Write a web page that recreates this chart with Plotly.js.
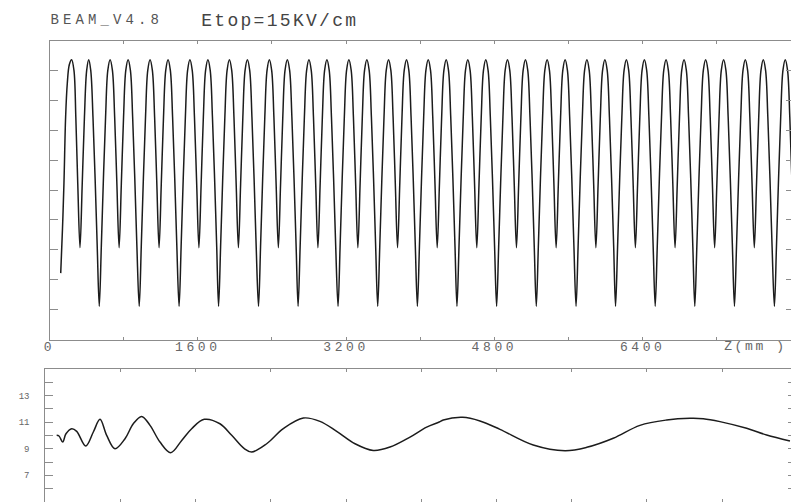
<!DOCTYPE html>
<html><head><meta charset="utf-8">
<script src="https://cdn.plot.ly/plotly-3.0.1.min.js"></script>
<style>
html,body{margin:0;padding:0;background:#fff;}
#chart{width:791px;height:502px;}
.xtick text{letter-spacing:3.6px;}
.ytick text{letter-spacing:4px;}
.annotation[data-index="0"] text{letter-spacing:4.1px;}
.annotation[data-index="1"] text{letter-spacing:2.3px;}
.annotation[data-index="2"] text{letter-spacing:2.6px;}
</style>
</head><body><div id="chart"></div>
<script>
// ---- top panel: field along z (mm) ----
const zTop = [
  121,140,156,174,192,214,239,264,284,305,329,353,377,401,423,445,469,492,515,
  537,559,582,605,629,654,679,703,727,751,775,799,823,848,873,897,920,943,
  968,990,1013,1036,1060,1085,1110,1134,1158,1182,1206,1230,1254,1279,1304,1328,1351,1374,
  1398,1420,1443,1466,1490,1515,1540,1564,1588,1612,1636,1660,1684,1709,1734,1758,1781,1804,
  1824,1846,1869,1892,1916,1941,1966,1990,2014,2038,2062,2086,2110,2135,2160,2184,2207,2230,
  2255,2277,2300,2323,2347,2372,2397,2421,2445,2469,2493,2517,2541,2566,2591,2615,2638,2661,
  2682,2704,2727,2750,2774,2799,2824,2848,2872,2896,2920,2944,2968,2993,3018,3042,3065,3088,
  3113,3135,3158,3181,3205,3230,3255,3279,3303,3327,3351,3375,3399,3424,3449,3473,3496,3519,
  3541,3563,3586,3609,3633,3658,3683,3707,3731,3755,3779,3803,3827,3852,3877,3901,3924,3947,
  3969,3991,4014,4037,4061,4086,4111,4135,4159,4183,4207,4231,4255,4280,4305,4329,4352,4375,
  4396,4418,4441,4464,4488,4513,4538,4562,4586,4610,4634,4658,4682,4707,4732,4756,4779,4802,
  4824,4846,4869,4892,4916,4941,4966,4990,5014,5038,5062,5086,5110,5135,5160,5184,5207,5230,
  5252,5274,5297,5320,5344,5369,5394,5418,5442,5466,5490,5514,5538,5563,5588,5612,5635,5658,
  5681,5703,5726,5749,5773,5798,5823,5847,5871,5895,5919,5943,5967,5992,6017,6041,6064,6087,
  6107,6129,6152,6175,6199,6224,6249,6273,6297,6321,6345,6369,6393,6418,6443,6467,6490,6513,
  6535,6557,6580,6603,6627,6652,6677,6701,6725,6749,6773,6797,6821,6846,6871,6895,6918,6941,
  6962,6984,7007,7030,7054,7079,7104,7128,7152,7176,7200,7224,7248,7273,7298,7322,7345,7368,
  7390,7412,7435,7458,7482,7507,7532,7556,7580,7604,7628,7652,7676,7701,7726,7750,7773,7796,
  7821,7843,7866,7889,7913,7938,7963,7987,8011
];
const eTop = [
  2.22,3.7,5.23,7.45,8.57,9.2,9.36,9.0,7.44,5.2,3.07,5.2,7.44,9.0,9.36,9.0,7.44,5.4,3.1,
  1.11,3.1,5.4,7.44,9.0,9.36,9.0,7.44,5.2,3.07,5.2,7.44,9.0,9.36,9.0,7.44,5.4,3.1,
  1.11,3.1,5.4,7.44,9.0,9.36,9.0,7.44,5.2,3.07,5.2,7.44,9.0,9.36,9.0,7.44,5.4,3.1,
  1.11,3.1,5.4,7.44,9.0,9.36,9.0,7.44,5.2,3.07,5.2,7.44,9.0,9.36,9.0,7.44,5.4,3.1,
  1.11,3.1,5.4,7.44,9.0,9.36,9.0,7.44,5.2,3.07,5.2,7.44,9.0,9.36,9.0,7.44,5.4,3.1,
  1.11,3.1,5.4,7.44,9.0,9.36,9.0,7.44,5.2,3.07,5.2,7.44,9.0,9.36,9.0,7.44,5.4,3.1,
  1.11,3.1,5.4,7.44,9.0,9.36,9.0,7.44,5.2,3.07,5.2,7.44,9.0,9.36,9.0,7.44,5.4,3.1,
  1.11,3.1,5.4,7.44,9.0,9.36,9.0,7.44,5.2,3.07,5.2,7.44,9.0,9.36,9.0,7.44,5.4,3.1,
  1.11,3.1,5.4,7.44,9.0,9.36,9.0,7.44,5.2,3.07,5.2,7.44,9.0,9.36,9.0,7.44,5.4,3.1,
  1.11,3.1,5.4,7.44,9.0,9.36,9.0,7.44,5.2,3.07,5.2,7.44,9.0,9.36,9.0,7.44,5.4,3.1,
  1.11,3.1,5.4,7.44,9.0,9.36,9.0,7.44,5.2,3.07,5.2,7.44,9.0,9.36,9.0,7.44,5.4,3.1,
  1.11,3.1,5.4,7.44,9.0,9.36,9.0,7.44,5.2,3.07,5.2,7.44,9.0,9.36,9.0,7.44,5.4,3.1,
  1.11,3.1,5.4,7.44,9.0,9.36,9.0,7.44,5.2,3.07,5.2,7.44,9.0,9.36,9.0,7.44,5.4,3.1,
  1.11,3.1,5.4,7.44,9.0,9.36,9.0,7.44,5.2,3.07,5.2,7.44,9.0,9.36,9.0,7.44,5.4,3.1,
  1.11,3.1,5.4,7.44,9.0,9.36,9.0,7.44,5.2,3.07,5.2,7.44,9.0,9.36,9.0,7.44,5.4,3.1,
  1.11,3.1,5.4,7.44,9.0,9.36,9.0,7.44,5.2,3.07,5.2,7.44,9.0,9.36,9.0,7.44,5.4,3.1,
  1.11,3.1,5.4,7.44,9.0,9.36,9.0,7.44,5.2,3.07,5.2,7.44,9.0,9.36,9.0,7.44,5.4,3.1,
  1.11,3.1,5.4,7.44,9.0,9.36,9.0,7.44,5.2,3.07,5.2,7.44,9.0,9.36,9.0,7.44,5.4,3.1,
  1.11,3.1,5.4,7.44,9.0,9.36,9.0,7.44,5.2
];

// ---- bottom panel ----
const zBot = [121,146,185,220,281,334,430,511,582,653,741,848,936,1025,1114,1220,1334,1451,1557,1691,
  1858,1983,2117,2196,2355,2532,2745,2922,3100,3295,3489,3667,3880,4057,4191,4234,4440,4624,4837,
  5191,5529,5760,6042,6326,6610,6858,7000,7177,7461,7674,7922];
const eBot = [10.0,9.95,9.5,10.12,10.5,10.3,9.2,10.25,11.2,10.0,9.0,9.75,10.87,11.42,10.75,9.5,8.7,9.62,10.5,11.2,
  10.87,10.0,9.0,8.75,9.37,10.5,11.3,11.05,10.3,9.37,8.87,9.12,9.87,10.62,11.0,11.15,11.35,11.08,10.45,
  9.28,8.85,9.1,9.78,10.75,11.15,11.28,11.25,11.03,10.53,10.03,9.58];

// ---- ticks / labels ----
const zTicks = [0,800,1600,2400,3200,4000,4800,5600,6400,7200,8000];
const zTickText = ['0','','1600','','3200','','4800','','6400','',''];
const topYTicks = [1,2,3,4,5,6,7,8,9];
const botYTicks = [5,6,7,8,9,10,11,12,13,14];
const botYTickText = ['5','','7','','9','','11','','13',''];
const titleLeft = 'BEAM_V4.8';
const titleMain = 'Etop=15KV/cm';
const zLabel = 'Z(mm )';

const W = 791, H = 502;
const AX = '#8c8c8c';
const MONO = 'Liberation Mono, DejaVu Sans Mono, monospace';
const tickFont = {family:MONO, size:13, color:'#666'};

const traces = [
  {x:zTop, y:eTop, xaxis:'x', yaxis:'y', mode:'lines', hoverinfo:'skip', showlegend:false,
   line:{color:'#1c1c1c', width:1.5, shape:'spline', smoothing:1}},
  {x:zBot, y:eBot, xaxis:'x2', yaxis:'y2', mode:'lines', hoverinfo:'skip', showlegend:false,
   line:{color:'#1c1c1c', width:1.5, shape:'spline', smoothing:1}},
  {x:[null], y:[null], xaxis:'x', yaxis:'y3', mode:'lines', hoverinfo:'skip', showlegend:false},
  {x:[null], y:[null], xaxis:'x2', yaxis:'y4', mode:'lines', hoverinfo:'skip', showlegend:false}
];

const baseAx = {showgrid:false, zeroline:false, linecolor:AX, linewidth:1, tickcolor:AX, tickwidth:1, fixedrange:true};

const layout = {
  width:W, height:H, margin:{l:0,r:0,t:0,b:0},
  paper_bgcolor:'#fff', plot_bgcolor:'#fff', showlegend:false,
  xaxis:Object.assign({}, baseAx, {domain:[49.5/W,1], range:[0,8000], anchor:'y',
    showline:true, mirror:'ticks', ticks:'inside', ticklen:3,
    tickmode:'array', tickvals:zTicks, ticktext:zTickText, tickfont:tickFont, ticklabelstandoff:-5}),
  yaxis:Object.assign({}, baseAx, {domain:[(H-339.5)/H,(H-40.5)/H], range:[0,10], anchor:'x',
    showline:true, ticks:'inside', ticklen:8, tickmode:'array', tickvals:topYTicks, showticklabels:false}),
  yaxis3:Object.assign({}, baseAx, {overlaying:'y', side:'right', anchor:'x', range:[0,10],
    showline:false, ticks:'inside', ticklen:5, tickmode:'array', tickvals:topYTicks, showticklabels:false}),
  xaxis2:Object.assign({}, baseAx, {domain:[45.3/W,1], range:[0,7933], anchor:'y2',
    showline:true, mirror:'ticks', ticks:'inside', ticklen:3,
    tickmode:'array', tickvals:zTicks, showticklabels:false}),
  yaxis2:Object.assign({}, baseAx, {domain:[0,(H-368.7)/H], range:[5,15], anchor:'x2',
    showline:true, ticks:'inside', ticklen:8, tickmode:'array', tickvals:botYTicks, ticktext:botYTickText,
    tickfont:{family:MONO, size:9, color:'#666'}, ticklabelstandoff:13}),
  yaxis4:Object.assign({}, baseAx, {overlaying:'y2', side:'right', anchor:'x2', range:[5,15],
    showline:false, ticks:'inside', ticklen:3, tickmode:'array', tickvals:botYTicks, showticklabels:false}),
  annotations:[
    {text:titleLeft, xref:'paper', yref:'paper', x:67/W, y:1-20/H, xanchor:'left', yanchor:'middle',
     showarrow:false, font:{family:MONO, size:14, color:'#555'}},
    {text:titleMain, xref:'paper', yref:'paper', x:213/W, y:1-21/H, xanchor:'left', yanchor:'middle',
     showarrow:false, font:{family:MONO, size:18, color:'#444'}},
    {text:zLabel, xref:'paper', yref:'paper', x:781/W, y:1-346/H, xanchor:'right', yanchor:'middle',
     showarrow:false, font:{family:MONO, size:13, color:'#666'}}
  ]
};

Plotly.newPlot('chart', traces, layout, {staticPlot:true, displayModeBar:false});
</script></body></html>
